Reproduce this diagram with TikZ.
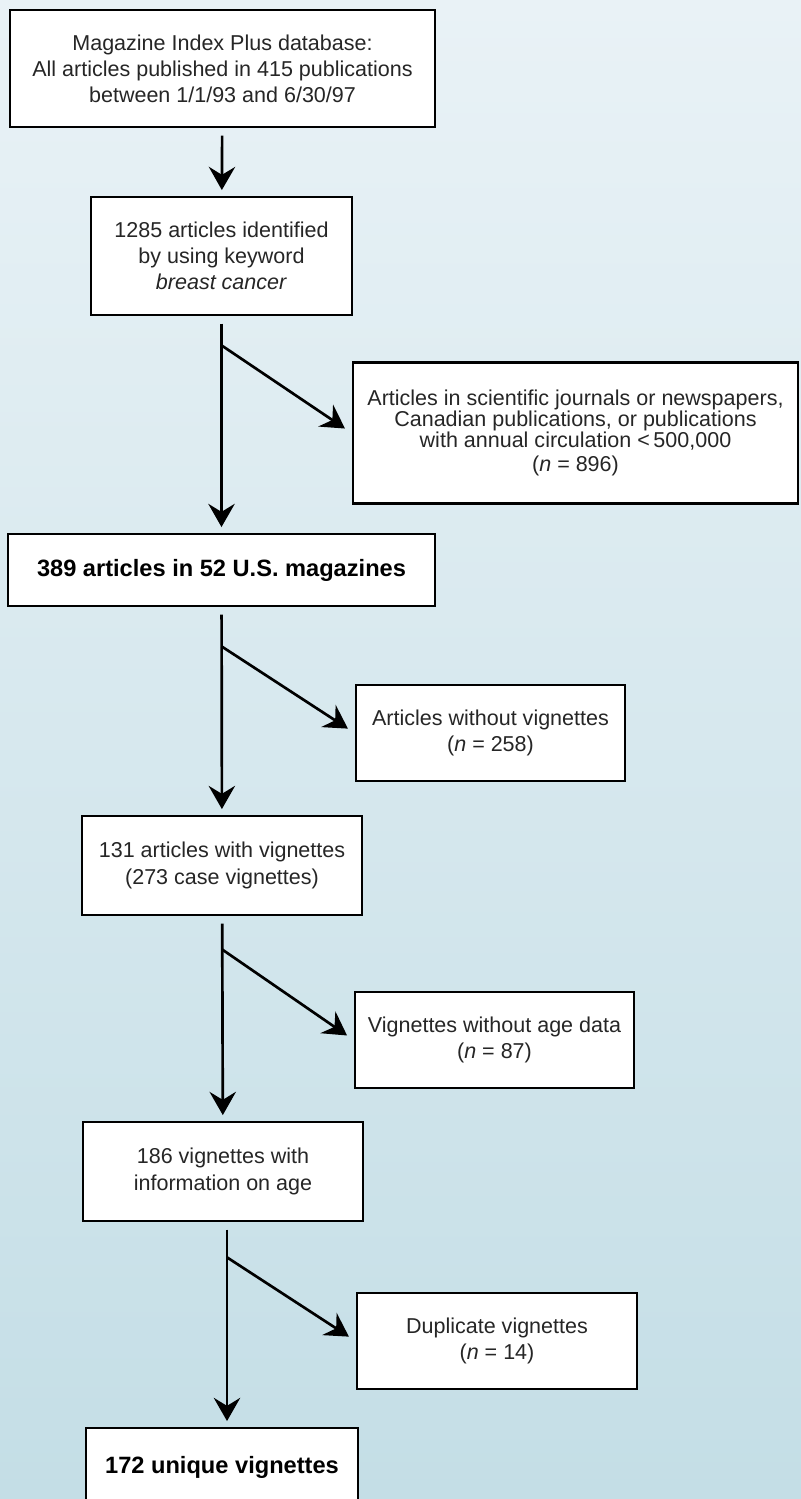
\documentclass[tikz,border=0pt]{standalone}
\usepackage{fontspec}
\setmainfont{Liberation Sans}
\usepackage{xcolor}
\usepackage{tikz}
\usetikzlibrary{arrows.meta, positioning}

\definecolor{bgtop}{HTML}{E9F2F6}
\definecolor{bgbot}{HTML}{C4DEE6}

\newcommand{\tightlines}{\fontsize{15.3}{15}\selectfont\lineskiplimit -20pt\relax}

\begin{document}
\begin{tikzpicture}[x=0.025cm, y=-0.025cm,
    box/.style={rectangle, draw=black, fill=white, line width=1.9pt, align=center, inner sep=0pt, font=\fontsize{15.3}{18.6}\selectfont, text=black!85},
    keybox/.style={box, font=\fontsize{16.8}{20}\selectfont\bfseries, text=black},
    exbox/.style={box},
    arrow/.style={-{Stealth[length=0.58cm, width=0.66cm, inset=0.2cm]}, line width=1.9pt, shorten <=0.18cm, shorten >=0.14cm},
    branch/.style={-{Stealth[length=0.58cm, width=0.66cm, inset=0.2cm]}, line width=1.9pt, shorten >=0.2cm}
]

\useasboundingbox (0,0) rectangle (801,1499);
\shade[top color=bgtop, bottom color=bgbot] (0,0) rectangle (801,1499);

\node (src) [box, minimum width=10.625cm, minimum height=2.925cm] at (222.5,68.5) {Magazine Index Plus database:\\ All articles published in 415 publications\\ between 1/1/93 and 6/30/97};
\node (kw) [box, minimum width=6.525cm, minimum height=2.95cm] at (221.5,256) {1285 articles identified\\ by using keyword\\ \textit{breast cancer}};
\node (ex1) [exbox, minimum width=11.125cm, minimum height=3.525cm, font=\tightlines] at (575.5,433) {Articles in scientific journals or newspapers,\\ Canadian publications, or publications\\ with annual circulation <\,500,000\\[2pt] (\textit{n} = 896)};
\node (mag) [keybox, minimum width=10.675cm, minimum height=1.8cm] at (221.5,570) {389 articles in 52 U.S. magazines};
\node (ex2) [exbox, minimum width=6.725cm, minimum height=2.4cm] at (490.5,733) {Articles without vignettes\\ (\textit{n} = 258)};
\node (vig) [box, minimum width=7cm, minimum height=2.475cm] at (222,865.5) {131 articles with vignettes\\ (273 case vignettes)};
\node (ex3) [exbox, minimum width=6.975cm, minimum height=2.4cm] at (494.5,1040) {Vignettes without age data\\ (\textit{n} = 87)};
\node (age) [box, minimum width=7cm, minimum height=2.475cm] at (223,1171.5) {186 vignettes with\\ information on age};
\node (ex4) [exbox, minimum width=7cm, minimum height=2.4cm] at (497,1341) {Duplicate vignettes\\ (\textit{n} = 14)};
\node (uniq) [keybox, minimum width=6.8cm, minimum height=1.95cm] at (222,1467) {172 unique vignettes};

% main flow
\draw [arrow] (src) -- (kw);
\draw [arrow] (kw) -- (mag);
\draw [arrow] (mag) -- (vig);
\draw [arrow] (vig) -- (age);
\path (age.south) ++(4,0) coordinate (a4);
\draw [arrow] (a4) -- (a4 |- uniq.north);

% exclusions
\path (kw.south) ++(0,29) coordinate (b1);
\path (mag.south) ++(0,39) coordinate (b2);
\path (vig.south) ++(0,33) coordinate (b3);
\path (a4) ++(0,35) coordinate (b4);
\draw [branch] (b1) -- (ex1.west);
\draw [branch] (b2) -- (ex2.west);
\draw [branch] (b3) -- (ex3.west);
\draw [branch] (b4) -- (ex4.west);

\end{tikzpicture}
\end{document}
